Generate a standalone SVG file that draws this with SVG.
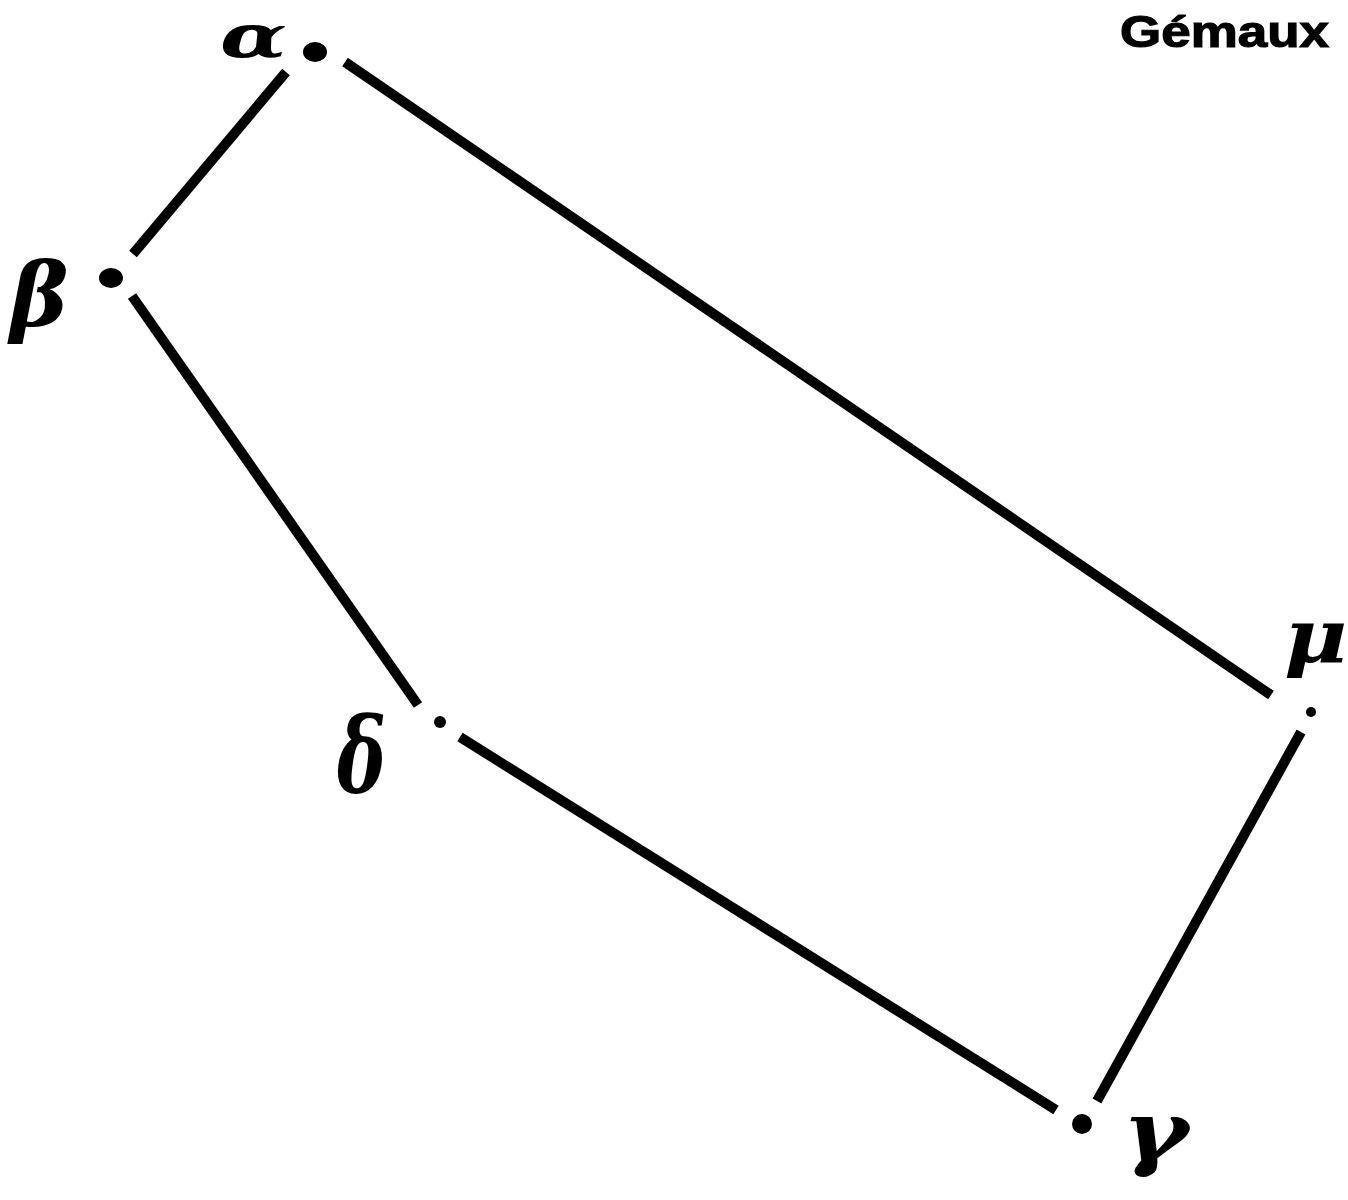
<svg xmlns="http://www.w3.org/2000/svg" width="1348" height="1200" viewBox="0 0 1348 1200">
<style>
.edge{stroke:#000;stroke-width:10;stroke-linecap:butt;fill:none}
.star{fill:#000}
.lbl{font-family:"DejaVu Serif","Liberation Serif",serif;font-style:italic;font-weight:bold;fill:#000}
.title{font-family:"Liberation Sans",Arial,sans-serif;font-weight:bold;fill:#000;stroke:#000;stroke-width:1.2}
</style>
<rect width="1348" height="1200" fill="#fff"/>
<text class="title" x="1120" y="47" font-size="45" textLength="209" lengthAdjust="spacingAndGlyphs">Gémaux</text>
<g id="connectors">
<line class="edge" x1="286" y1="72" x2="133" y2="254"/>
<line class="edge" x1="345" y1="62" x2="1271" y2="695"/>
<line class="edge" x1="132" y1="296" x2="418" y2="705"/>
<line class="edge" x1="460" y1="737" x2="1056" y2="1110"/>
<line class="edge" x1="1301" y1="732" x2="1097" y2="1101"/>
</g>
<g id="alpha"><ellipse class="star" cx="315" cy="52" rx="12" ry="10"/><text class="lbl" transform="translate(220,57) scale(1.45,1)" font-size="60">α</text></g>
<g id="beta"><ellipse class="star" cx="111" cy="278" rx="12" ry="10"/><text class="lbl" x="10" y="326" font-size="88">β</text></g>
<g id="delta"><circle class="star" cx="440" cy="722" r="6"/><text class="lbl" transform="translate(337,793) scale(0.7,1)" font-size="105">δ</text></g>
<g id="mu"><circle class="star" cx="1311" cy="712" r="5"/><text class="lbl" transform="translate(1284,662) scale(1.2,1.05)" font-size="72">μ</text></g>
<g id="gamma"><circle class="star" cx="1082" cy="1124" r="10"/><text class="lbl" transform="translate(1122,1160) scale(1.4,1.15)" font-size="72">γ</text></g>
</svg>
